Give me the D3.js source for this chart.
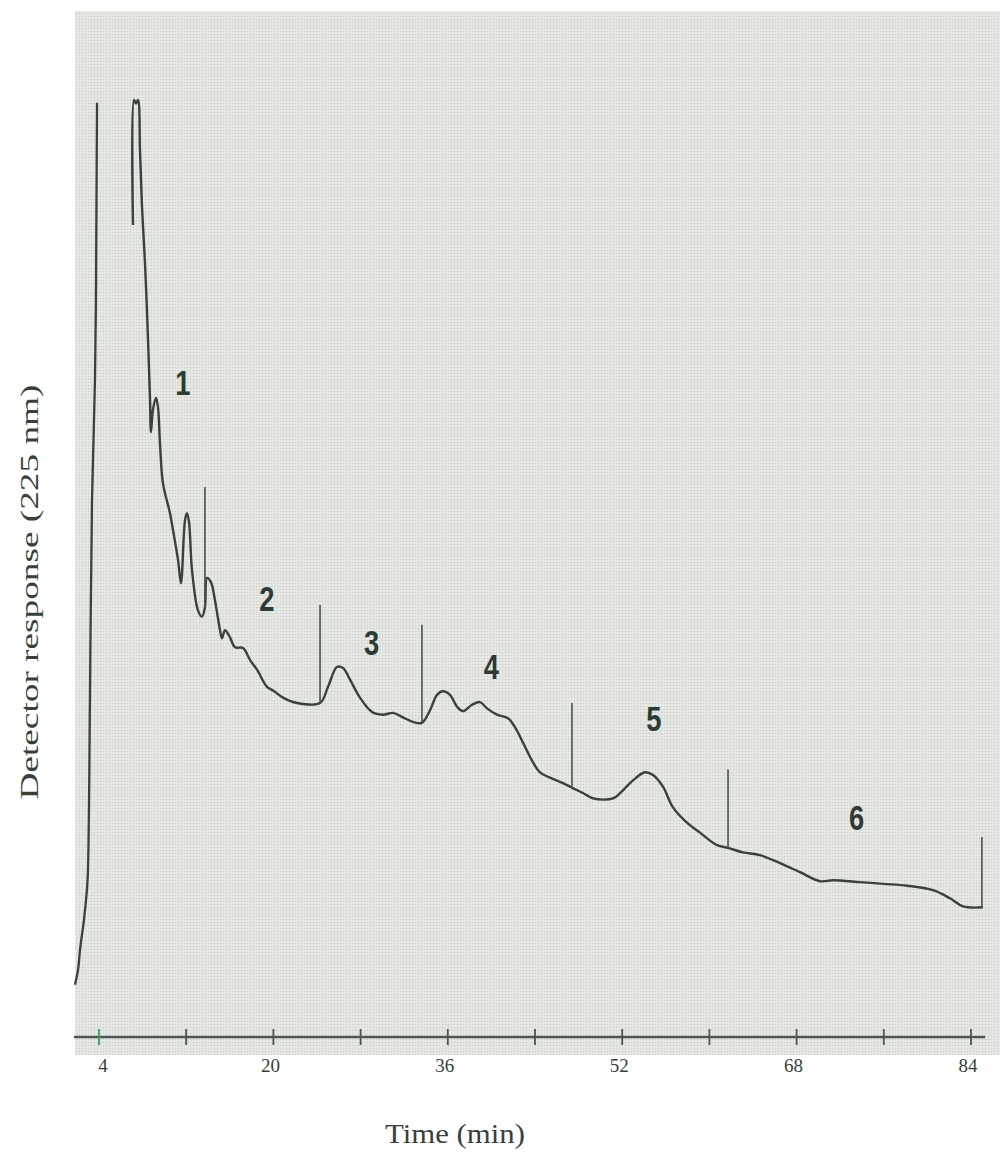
<!DOCTYPE html>
<html>
<head>
<meta charset="utf-8">
<script src="https://cdn.jsdelivr.net/npm/d3@7"></script>
<style>
  html, body { margin: 0; padding: 0; background: #ffffff; }
  svg { display: block; }
</style>
</head>
<body>
<svg id="chart" width="1005" height="1156"></svg>
<script>
// ---- data (time in min, detector response in % of full scale) ----
const solventFrontTime = [1.80, 2.07, 2.26, 2.62, 2.99, 3.17, 3.36, 3.63, 3.72, 3.82];
const solventFrontResp = [1.7, 3.3, 5.6, 8.9, 14.4, 33.3, 55.6, 68.9, 77.8, 99.7];

const traceTime = [7.12, 7.21, 7.39, 7.58, 7.76, 7.94, 8.22, 8.50, 8.68, 8.77, 8.95, 9.23, 9.41, 9.60, 9.87,
  10.51, 10.79, 11.25, 11.52, 11.89, 12.07, 12.26, 12.53, 13.08, 13.45, 13.72, 13.91, 14.28, 14.64, 15.10,
  15.28, 15.56, 15.83, 16.02, 16.48, 17.21, 17.85, 18.50, 19.41, 19.96, 20.88, 22.17, 24.28, 25.01, 25.83,
  26.39, 27.03, 27.94, 29.05, 30.06, 30.97, 31.89, 32.81, 33.63, 34.37, 35.01, 35.56, 36.20, 36.84, 37.39,
  38.22, 38.95, 39.60, 40.51, 41.52, 42.17, 42.90, 43.82, 44.46, 45.38, 46.57, 47.39, 48.40, 49.32, 51.16,
  52.07, 52.99, 54.09, 54.83, 55.74, 56.66, 57.94, 59.14, 60.70, 61.71, 63.08, 64.64, 66.48, 68.31, 70.15,
  71.34, 73.82, 75.93, 78.13, 80.51, 82.07, 83.27, 85.10];
const traceResp = [86.1, 100, 99.6, 100, 94.4, 88.3, 81.9, 73.3, 66.7, 63.1, 65.6, 66.9, 65.9, 61.7, 57.4,
  54.1, 52.2, 48.9, 46.3, 53.3, 54.1, 53.1, 47.8, 43.3, 42.6, 43.6, 46.9, 46.4, 44.4, 41.1,
  40.2, 41.1, 40.7, 40.3, 39.2, 39.1, 37.8, 36.7, 34.8, 34.4, 33.6, 33.0, 33.0, 34.8, 37.0,
  36.9, 35.6, 33.6, 32.0, 31.7, 31.9, 31.4, 30.9, 30.8, 32.2, 33.9, 34.3, 33.9, 32.6, 32.1,
  32.8, 33.1, 32.4, 31.7, 31.3, 30.3, 28.6, 26.4, 25.3, 24.7, 24.1, 23.6, 23.0, 22.4, 22.4,
  23.3, 24.4, 25.3, 25.0, 23.7, 21.4, 19.7, 18.6, 17.2, 16.9, 16.4, 16.1, 15.2, 14.2, 13.2,
  13.3, 13.1, 12.9, 12.7, 12.2, 11.3, 10.4, 10.3];

// fraction cut markers: time, top response, bottom response (on the trace)
const cutTime   = [13.72, 24.28, 33.63, 47.39, 61.71, 85.0];
const cutTop    = [57.0, 43.9, 41.7, 33.0, 25.6, 18.1];
const cutBottom = [43.6, 33.0, 30.8, 23.6, 16.9, 10.3];

// fraction labels and their anchor (time, response)
const fractionLabels = ["1", "2", "3", "4", "5", "6"];
const fractionTime   = [11.7, 19.4, 29.0, 40.0, 54.9, 73.5];
const fractionResp   = [68.7, 44.7, 39.8, 37.1, 31.3, 20.3];

const tickValues = [4, 12, 20, 28, 36, 44, 52, 60, 68, 76, 84];
const tickLabels = [4, 20, 36, 52, 68, 84];
const xTitle = "Time (min)";
const yTitle = "Detector response (225 nm)";

// ---- drawing ----
const svg = d3.select("#chart");
const x = d3.scaleLinear().domain([4, 84]).range([99, 971]);
const y = d3.scaleLinear().domain([0, 100]).range([1000, 100]);

// halftone panel
const defs = svg.append("defs");
const pat = defs.append("pattern").attr("id", "dots")
  .attr("width", 3).attr("height", 3).attr("patternUnits", "userSpaceOnUse");
pat.append("rect").attr("width", 3).attr("height", 3).attr("fill", "#e6e8e4");
pat.append("circle").attr("cx", 1.5).attr("cy", 1.5).attr("r", 0.8).attr("fill", "#cbcec9");

svg.append("rect").attr("x", 75).attr("y", 11).attr("width", 925).attr("height", 1044)
  .attr("fill", "url(#dots)");

const line = d3.line().x(d => x(d[0])).y(d => y(d[1]));

const traceColor = "#3a413d";

svg.append("path")
  .datum(solventFrontTime.map((t, i) => [t, solventFrontResp[i]]))
  .attr("d", line.curve(d3.curveMonotoneY))
  .attr("fill", "none").attr("stroke", traceColor).attr("stroke-width", 2.3);

svg.append("path")
  .datum(traceTime.map((t, i) => [t, traceResp[i]]))
  .attr("d", line.curve(d3.curveCatmullRom.alpha(0.5)))
  .attr("fill", "none").attr("stroke", traceColor).attr("stroke-width", 2.4)
  .attr("stroke-linejoin", "round");

// cut markers
svg.append("g").selectAll("line").data(cutTime).join("line")
  .attr("x1", d => x(d)).attr("x2", d => x(d))
  .attr("y1", (d, i) => y(cutTop[i])).attr("y2", (d, i) => y(cutBottom[i]))
  .attr("stroke", "#4a504c").attr("stroke-width", 1.6);

// fraction labels
svg.append("g").selectAll("text").data(fractionLabels).join("text")
  .attr("transform", (d, i) => `translate(${x(fractionTime[i])},${y(fractionResp[i]) + 13}) scale(0.78,1)`)
  .attr("text-anchor", "middle")
  .attr("font-family", "'Liberation Sans', Arial, sans-serif")
  .attr("font-weight", "bold")
  .attr("font-size", 35)
  .attr("fill", "#2c3b34")
  .text(d => d);

// x axis
const axisY = 1037;
const gx = svg.append("g").attr("transform", `translate(0,${axisY})`);
gx.append("line").attr("x1", x(1.7)).attr("x2", x(85.3)).attr("y1", 0).attr("y2", 0)
  .attr("stroke", "#4d5550").attr("stroke-width", 2.4);
gx.selectAll("line.tick").data(tickValues).join("line").attr("class", "tick")
  .attr("x1", d => x(d)).attr("x2", d => x(d)).attr("y1", -8).attr("y2", 8)
  .attr("stroke", (d, i) => i === 0 ? "#3f9a5c" : "#4d5550").attr("stroke-width", 1.8);
gx.selectAll("text").data(tickLabels).join("text")
  .attr("x", d => x(d) + (d === 4 ? 4 : -3)).attr("y", 35)
  .attr("text-anchor", "middle")
  .attr("font-family", "'Liberation Serif', 'Times New Roman', serif")
  .attr("font-size", 19)
  .attr("fill", "#34403a")
  .text(d => d);

// titles
svg.append("text")
  .attr("x", 455).attr("y", 1143)
  .attr("text-anchor", "middle")
  .attr("font-family", "'Liberation Serif', 'Times New Roman', serif")
  .attr("font-size", 27)
  .attr("textLength", 140).attr("lengthAdjust", "spacingAndGlyphs")
  .attr("fill", "#3a3f3c")
  .text(xTitle);

svg.append("text")
  .attr("transform", "translate(38,592) rotate(-90)")
  .attr("text-anchor", "middle")
  .attr("font-family", "'Liberation Serif', 'Times New Roman', serif")
  .attr("font-size", 26)
  .attr("textLength", 415).attr("lengthAdjust", "spacingAndGlyphs")
  .attr("fill", "#3a3f3c")
  .text(yTitle);
</script>
</body>
</html>
